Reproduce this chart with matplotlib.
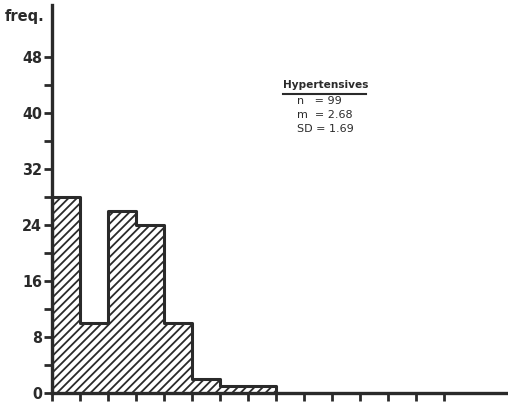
import numpy as np
import matplotlib.pyplot as plt

# Frequency per class (class width 1)
bin_edges = [0, 1, 2, 3, 4, 5, 6, 7, 8]
counts = [28, 10, 26, 24, 10, 2, 1, 1]
y_major = [0, 8, 16, 24, 32, 40, 48]
y_minor = [4, 12, 20, 28, 36, 44]
x_ticks = list(range(15))
stats_lines = ["n   = 99", "m  = 2.68", "SD = 1.69"]

plt.rcParams['font.family'] = ['DejaVu Sans']
plt.rcParams['hatch.linewidth'] = 1.3
ink = '#2a2a2a'

fig = plt.figure(figsize=(5.08, 4.03), dpi=100)
ax = fig.add_axes([52 / 508, 10 / 403, 456 / 508, 388 / 403])

# hatched fill without per-bar borders, then the stepped outline
lefts = np.array(bin_edges[:-1])
ax.bar(lefts, counts, width=1, align='edge', color='white', edgecolor=ink,
       hatch='////', linewidth=0)
outline_y = [0] + counts + [0]
outline_x = [bin_edges[0]] + bin_edges
ax.step(outline_x, outline_y, where='post', color=ink, lw=2.2)
ax.plot([bin_edges[0], bin_edges[0]], [0, counts[0]], color=ink, lw=2.2)

ax.set_xlim(0, 456 / 28)
ax.set_ylim(0, 388 / 7)
for side in ['top', 'right']:
    ax.spines[side].set_visible(False)
for side in ['left', 'bottom']:
    ax.spines[side].set_linewidth(2.4)
    ax.spines[side].set_color(ink)

ax.set_yticks(y_major)
ax.set_yticks(y_minor, minor=True)
ax.set_xticks(x_ticks)
ax.set_xticklabels([])
ax.tick_params(axis='y', which='both', length=6, width=2, color=ink,
               labelsize=11.5, labelcolor=ink, pad=1)
ax.tick_params(axis='x', length=6, width=2, color=ink)
for lab in ax.get_yticklabels():
    lab.set_fontweight('bold')
    lab.set_fontstretch('condensed')

fig.text(5 / 508, 1 - 17 / 403, 'freq.', fontsize=10.5, fontweight='bold',
         color=ink, va='center', ha='left')

# summary statistics box
fig.text(283 / 508, 1 - 85 / 403, 'Hypertensives', fontsize=7.6,
         fontweight='bold', color=ink, va='center', ha='left')
fig.add_artist(plt.Line2D([283 / 508, 366 / 508], [1 - 94 / 403] * 2,
                          color=ink, lw=1.5))
for i, line in enumerate(stats_lines):
    fig.text(297 / 508, 1 - (101 + 14 * i) / 403, line, fontsize=8,
             color=ink, va='center', ha='left')

fig.savefig('out.png', dpi=100)
